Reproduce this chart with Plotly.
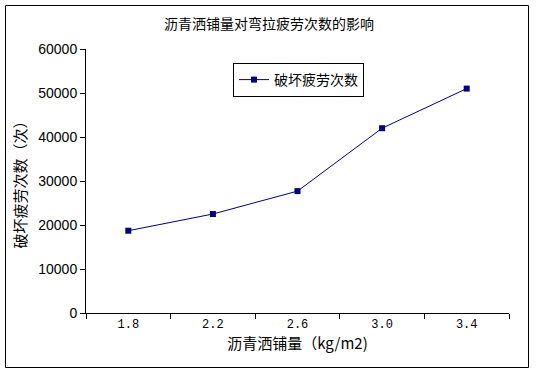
import plotly.graph_objects as go

categories = ["1.8", "2.2", "2.6", "3.0", "3.4"]
fatigue_counts = [18700, 22500, 27700, 42000, 51000]
series_name = "破坏疲劳次数"
title_text = "沥青洒铺量对弯拉疲劳次数的影响"
x_title = "沥青洒铺量（kg/m2)"
y_title = "破坏疲劳次数（次）"
y_ticks = [0, 10000, 20000, 30000, 40000, 50000, 60000]

W, H = 536, 374
L, R, T, B = 86, 27, 49, 61

fig = go.Figure()
fig.add_trace(go.Scatter(
    x=categories, y=fatigue_counts, name=series_name,
    mode="lines+markers",
    line=dict(color="#000080", width=1),
    marker=dict(symbol="square", size=6, color="#000080"),
    showlegend=True,
))

pw = W - L - R
ph = H - T - B
fig.update_layout(
    width=W, height=H,
    margin=dict(l=L, r=R, t=T, b=B, pad=0),
    paper_bgcolor="white", plot_bgcolor="white",
    font=dict(family="Noto Sans CJK SC", color="black", size=14),
    title=dict(text=title_text, x=(269) / W, xanchor="center",
               y=1 - 24 / H, yanchor="middle",
               font=dict(family="Noto Sans CJK SC", size=14, color="black")),
    showlegend=True,
    legend=dict(x=(233 - L) / pw, y=(T + ph - 63) / ph, xanchor="left", yanchor="top",
                bordercolor="black", borderwidth=1, bgcolor="white",
                font=dict(family="Noto Sans CJK SC", size=14),
                tracegroupgap=0, itemsizing="trace", itemwidth=30),
    xaxis=dict(type="category", range=[-0.5, 4.5], tickson="boundaries",
               ticks="outside", ticklen=5, tickcolor="black", tickwidth=1,
               showline=True, linecolor="black", linewidth=1, showgrid=False,
               zeroline=False,
               tickfont=dict(family="Liberation Mono", size=12),
               title=dict(text=x_title, standoff=6,
                          font=dict(family="Noto Sans CJK SC", size=15))),
    yaxis=dict(range=[0, 60000], tickvals=y_ticks, ticktext=[str(v) for v in y_ticks],
               ticks="outside", ticklen=5, tickcolor="black", tickwidth=1,
               showline=True, linecolor="black", linewidth=1, showgrid=False,
               zeroline=False,
               tickfont=dict(family="Liberation Sans", size=14),
               title=dict(text=y_title, standoff=8,
                          font=dict(family="Noto Sans CJK SC", size=15))),
)

# outer frame around the chart
fig.add_shape(type="rect", xref="paper", yref="paper",
              x0=(5.5 - L) / pw, x1=(528.5 - L) / pw,
              y0=(T + ph - 367.5) / ph, y1=(T + ph - 5.5) / ph,
              line=dict(color="black", width=1), fillcolor="rgba(0,0,0,0)", layer="below")

fig.write_html("out.html", config={"displayModeBar": False})
with open("out.html", "r", encoding="utf-8") as f:
    html = f.read()
html = html.replace("<head>", "<head><style>html,body{margin:0;padding:0;overflow:hidden}</style>", 1)
with open("out.html", "w", encoding="utf-8") as f:
    f.write(html)
